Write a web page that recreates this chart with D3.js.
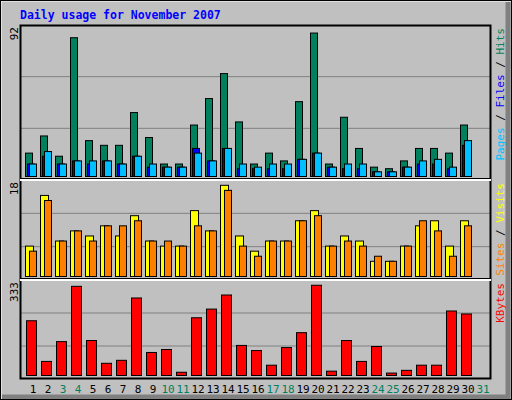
<!DOCTYPE html>
<html>
<head>
<meta charset="utf-8">
<script src="https://cdn.jsdelivr.net/npm/d3@7"></script>
<style>body{margin:0;background:#fff}</style>
</head>
<body>
<script>
// daily values
const days = d3.range(1, 32);
const weekend = [3, 4, 10, 11, 17, 18, 24, 25, 31];
const hits   = [15,26,13,89,23,20,20,41,25,8,8,33,50,66,35,8,15,10,48,92,8,38,18,6,5,10,18,18,15,33];
const files  = [8,16,8,10,10,10,8,13,8,6,6,15,10,18,8,6,8,8,11,15,6,8,8,3,3,6,10,11,6,23];
const pages  = [8,13,8,10,8,10,8,13,6,6,6,18,10,18,5,5,5,5,11,15,6,5,5,3,3,6,8,8,5,20];
const visits = [6,16,7,9,8,10,8,12,7,6,6,13,9,18,8,5,7,7,11,13,6,8,7,3,3,6,10,11,6,11];
const sites  = [5,15,7,9,7,10,10,11,7,7,6,10,9,17,6,4,7,7,11,12,6,7,6,4,3,6,11,9,4,10];
const kbytes = [202,52,125,329,129,45,56,286,85,96,12,213,245,297,111,92,38,103,158,333,16,129,52,107,9,19,38,38,238,227];

const svg = d3.select("body").append("svg").attr("width", 512).attr("height", 400);
const mono = "DejaVu Sans Mono, monospace";

// background and frame
svg.append("rect").attr("width", 512).attr("height", 400).attr("fill", "#c0c0c0");
svg.append("path").attr("d", "M1,399V1H511").attr("stroke", "#fff").attr("fill", "none");
svg.append("path").attr("d", "M508,2V397H2").attr("stroke", "#808080").attr("stroke-width", 5).attr("fill", "none");
svg.append("rect").attr("x", 0.5).attr("y", 0.5).attr("width", 511).attr("height", 399)
  .attr("fill", "none").attr("stroke", "#000");

svg.append("text").attr("x", 20).attr("y", 19).text("Daily usage for November 2007")
  .attr("font-family", mono).attr("font-weight", "bold").attr("font-size", 11.5).attr("fill", "#0000ff");

const x = d3.scaleLinear().domain([1, 2]).range([25, 40]);

const panels = [
  {top: 25, bottom: 180, max: 92, series: [[hits, "#00805c", 0, 7], [pages, "#0000ff", 2, 7], [files, "#00c0ff", 4, 7]],
   labels: [["Pages", "#00c0ff"], ["Files", "#0000ff"], ["Hits", "#00805c"]]},
  {top: 180, bottom: 280, max: 18, series: [[visits, "#ffff00", 0, 8], [sites, "#ff8000", 4, 7]],
   labels: [["Sites", "#ff8000"], ["Visits", "#ffff00"]]},
  {top: 280, bottom: 379, max: 333, series: [[kbytes, "#ff0000", 1, 10]],
   labels: [["KBytes", "#ff0000"]]}
];

panels.forEach(p => {
  const h = p.bottom - p.top;
  const base = p.bottom - 4;
  const y = d3.scaleLinear().domain([0, p.max]).range([base, base - (h - 4) * 0.95]);
  [1, 2].forEach(k => svg.append("line").attr("x1", 21).attr("x2", 490)
    .attr("y1", p.bottom - h * k / 3).attr("y2", p.bottom - h * k / 3)
    .attr("stroke", "#808080"));
  p.series.forEach(([vals, color, off, w]) => {
    svg.append("g").selectAll("rect").data(vals).join("rect")
      .attr("x", (d, i) => x(i + 1) + off + 0.5)
      .attr("y", d => y(d) + 0.5)
      .attr("width", w)
      .attr("height", d => base - y(d))
      .attr("fill", color).attr("stroke", "#000");
  });
  svg.append("text").attr("transform", `translate(18,${p.top + 2}) rotate(-90)`)
    .attr("text-anchor", "end").attr("font-family", mono).attr("font-size", 11).text(p.max);
  // right-hand legend reads bottom to top
  const t = svg.append("text").attr("transform", `translate(504,${p.top + 3}) rotate(-90)`)
    .attr("text-anchor", "end").attr("font-family", mono).attr("font-size", 11);
  p.labels.forEach(([s, c], i) => {
    if (i) t.append("tspan").attr("fill", "#000").text(" / ");
    t.append("tspan").attr("fill", c).text(s);
  });
});

// panel frame
svg.append("rect").attr("x", 20.5).attr("y", 25.5).attr("width", 470).attr("height", 353)
  .attr("fill", "none").attr("stroke", "#000").attr("stroke-width", 2);
[180, 280].forEach(v => svg.append("line").attr("x1", 20).attr("x2", 491).attr("y1", v).attr("y2", v)
  .attr("stroke", "#fff").attr("stroke-width", 2));
[180, 280].forEach(v => svg.append("line").attr("x1", 20).attr("x2", 491).attr("y1", v - 1.5).attr("y2", v - 1.5)
  .attr("stroke", "#000"));

svg.append("g").selectAll("text").data(days).join("text")
  .attr("x", d => x(d) + 8).attr("y", 393).attr("text-anchor", "middle")
  .attr("font-family", mono).attr("font-size", 11)
  .attr("fill", d => weekend.includes(d) ? "#00805c" : "#000")
  .text(d => d);
</script>
</body>
</html>
